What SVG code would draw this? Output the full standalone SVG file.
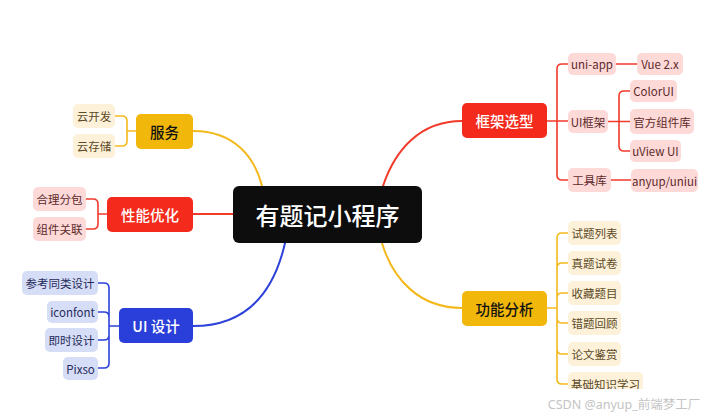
<svg xmlns="http://www.w3.org/2000/svg" width="716" height="419" viewBox="0 0 716 419">
<style>
text{font-family:"Noto Sans CJK SC","Noto Sans",sans-serif;text-anchor:middle;dominant-baseline:central}
.root{fill:#0d0d0d}
.rt{fill:#fff;font-size:24px;font-weight:500}
.y{fill:#f1b70b}.r{fill:#f32a1c}.b{fill:#2a3fd9}
.ly{fill:#fdf1d9}.lr{fill:#fdd9d8}.lb{fill:#d6ddf6}
.mt{font-size:14.5px;font-weight:500}
.wt{fill:#fff}.bt{fill:#111}
.ct{font-size:11.5px}
.cy{fill:#5c4a26}.cr{fill:#5e2a2a}.cb{fill:#1f2a5c}
.c{fill:none;stroke-width:2;stroke-linecap:round}
.cs{fill:none;stroke-width:1.6;stroke-linecap:round}
.sy{stroke:#f3b91c}.sr{stroke:#f23a2a}.sb{stroke:#2d42d9}
</style>
<rect width="716" height="419" fill="#fff"/>
<g id="connectors">
<path class="c sy" d="M193,131 C235,131 255,158 262,186"/>
<path class="c sr" d="M193,214 H233"/>
<path class="c sb" d="M285,243 C272,300 240,326 193,326"/>
<path class="c sr" d="M383,186 C395,150 420,121 462,121"/>
<path class="c sy" d="M382,243 C393,280 420,308 462,308"/>
<path class="cs sy" d="M136,131 H127 M115,116 H122 Q127,116 127,121 V141 Q127,146 122,146 H115"/>
<path class="cs sr" d="M107,214 H98 M86,199 H93 Q98,199 98,204 V224 Q98,229 93,229 H86"/>
<path class="cs sb" d="M119,326 H109 M98,283 H104 Q109,283 109,288 V363 Q109,368 104,368 H98 M98,312 H104 Q109,312 109,317 M98,340 H104 Q109,340 109,335"/>
<path class="cs sr" d="M547,121 H568 M568,64 H562 Q557,64 557,69 V175 Q557,180 562,180 H568"/>
<path class="cs sr" d="M608,121.5 H630 M630,91 H624 Q619,91 619,96 V146 Q619,151 624,151 H630"/>
<path class="cs sr" d="M616,64 H637 M611,180 H631"/>
<path class="cs sy" d="M547,308 H557 M568,233 H562 Q557,233 557,238 V379 Q557,384 562,384 H568 M568,263 H562 Q557,263 557,268 M568,293 H562 Q557,293 557,298 M568,323 H562 Q557,323 557,318 M568,354 H562 Q557,354 557,349"/>
</g>
<g id="root"><rect class="root" x="233" y="186" width="189" height="57" rx="6"/><text class="rt" x="327.5" y="214.5">有题记小程序</text></g>
<g id="fuwu"><rect class="y" x="136" y="114" width="57" height="35" rx="5"/><text class="mt bt" x="164.5" y="131.5">服务</text></g>
<g id="yunkaifa"><rect class="ly" x="73" y="104" width="42" height="24" rx="5"/><text class="ct cy" x="94" y="116">云开发</text></g>
<g id="yuncunchu"><rect class="ly" x="73" y="134" width="42" height="24" rx="5"/><text class="ct cy" x="94" y="146">云存储</text></g>
<g id="xingneng"><rect class="r" x="107" y="197" width="86" height="35" rx="5"/><text class="mt wt" x="150" y="214.5">性能优化</text></g>
<g id="fenbao"><rect class="lr" x="33" y="187" width="53" height="24" rx="5"/><text class="ct cr" x="59.5" y="199">合理分包</text></g>
<g id="guanlian"><rect class="lr" x="33" y="217" width="53" height="24" rx="5"/><text class="ct cr" x="59.5" y="229">组件关联</text></g>
<g id="uisheji"><rect class="b" x="119" y="308" width="74" height="35" rx="5"/><text class="mt wt" x="156" y="325.5">UI 设计</text></g>
<g id="cankao"><rect class="lb" x="22" y="271" width="76" height="24" rx="5"/><text class="ct cb" x="60" y="283">参考同类设计</text></g>
<g id="iconfont"><rect class="lb" x="47" y="301" width="51" height="22" rx="5"/><text class="ct cb" x="72.5" y="312">iconfont</text></g>
<g id="jishi"><rect class="lb" x="45" y="328" width="53" height="24" rx="5"/><text class="ct cb" x="71.5" y="340">即时设计</text></g>
<g id="pixso"><rect class="lb" x="63" y="357" width="35" height="23" rx="5"/><text class="ct cb" x="80.5" y="368.5">Pixso</text></g>
<g id="kuangjia"><rect class="r" x="462" y="103" width="85" height="35" rx="5"/><text class="mt wt" x="504.5" y="120.5">框架选型</text></g>
<g id="uniapp"><rect class="lr" x="568" y="53" width="48" height="22" rx="5"/><text class="ct cr" x="592" y="64">uni-app</text></g>
<g id="vue"><rect class="lr" x="637" y="53" width="46" height="22" rx="5"/><text class="ct cr" x="660" y="64">Vue 2.x</text></g>
<g id="uikuangjia"><rect class="lr" x="568" y="110" width="40" height="23" rx="5"/><text class="ct cr" x="588" y="121.5">UI框架</text></g>
<g id="colorui"><rect class="lr" x="630" y="80" width="47" height="22" rx="5"/><text class="ct cr" x="653.5" y="91">ColorUI</text></g>
<g id="guanfang"><rect class="lr" x="630" y="109" width="64" height="25" rx="5"/><text class="ct cr" x="662" y="121.5">官方组件库</text></g>
<g id="uview"><rect class="lr" x="630" y="140" width="51" height="22" rx="5"/><text class="ct cr" x="655.5" y="151">uView UI</text></g>
<g id="gongju"><rect class="lr" x="568" y="168" width="43" height="24" rx="5"/><text class="ct cr" x="589.5" y="180">工具库</text></g>
<g id="anyup"><rect class="lr" x="631" y="169" width="67" height="23" rx="5"/><text class="ct cr" x="664.5" y="180.5">anyup/uniui</text></g>
<g id="gongneng"><rect class="y" x="462" y="291" width="85" height="35" rx="5"/><text class="mt bt" x="504.5" y="308.5">功能分析</text></g>
<g id="liebiao"><rect class="ly" x="568" y="221" width="53" height="24" rx="5"/><text class="ct cy" x="594.5" y="233">试题列表</text></g>
<g id="zhenti"><rect class="ly" x="568" y="251" width="53" height="24" rx="5"/><text class="ct cy" x="594.5" y="263">真题试卷</text></g>
<g id="shoucang"><rect class="ly" x="568" y="281" width="53" height="24" rx="5"/><text class="ct cy" x="594.5" y="293">收藏题目</text></g>
<g id="cuoti"><rect class="ly" x="568" y="311" width="53" height="24" rx="5"/><text class="ct cy" x="594.5" y="323">错题回顾</text></g>
<g id="lunwen"><rect class="ly" x="568" y="342" width="53" height="24" rx="5"/><text class="ct cy" x="594.5" y="354">论文鉴赏</text></g>
<g id="jichu"><rect class="ly" x="568" y="372" width="75" height="24" rx="5"/><text class="ct cy" x="605.5" y="384">基础知识学习</text></g>
<rect x="0" y="389" width="716" height="30" fill="#fff"/>
<text x="624" y="404" style="font-size:12.5px;fill:#c4c4c4;font-family:'Noto Sans','Noto Sans CJK SC',sans-serif">CSDN @anyup_前端梦工厂</text>
</svg>
